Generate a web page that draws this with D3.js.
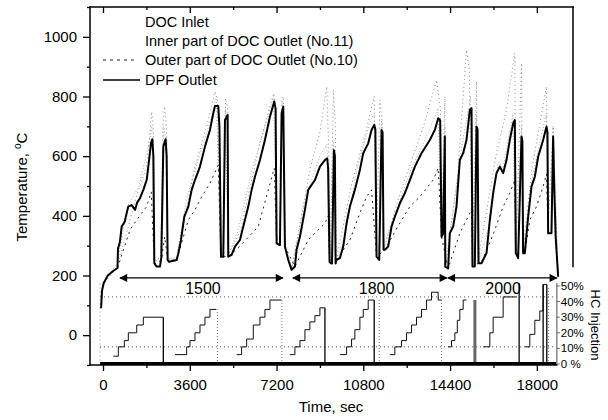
<!DOCTYPE html>
<html>
<head>
<meta charset="utf-8">
<script src="https://cdn.jsdelivr.net/npm/d3@7"></script>
<style>
  body { margin: 0; background: #fff; }
  svg { font-family: "Liberation Sans", Arial, sans-serif; }
  .axis text { font-size: 15px; fill: #000; }
  .axis line { stroke: #000; stroke-width: 1.3; }
  .axis path { display: none; }
</style>
</head>
<body>
<script>
//chart data (time in s, temperature in degC, HC in %)
var xTicks = [0, 3600, 7200, 10800, 14400, 18000];
var xMinor = [1800, 5400, 9000, 12600, 16200];
var yTicks = [0, 200, 400, 600, 800, 1000];
var yMinor = [-100, 100, 300, 500, 700, 900, 1100];
var hcTicks = [0, 10, 20, 30, 40, 50];
var hcLabels = ["0 %", "10%", "20%", "30%", "40%", "50%"];
var legendNames = ["DOC Inlet", "Inner part of DOC Outlet (No.11)", "Outer part of DOC Outlet (No.10)", "DPF Outlet"];

var dpfOutlet = [[-80,90],[-40,150],[30,175],[200,200],[420,215],[600,225],[622,290],[700,312],[774,364],[900,380],
  [982,409],[1050,431],[1189,436],[1327,420],[1420,445],[1534,459],[1673,487],[1811,520],[1880,565],[1990,643],
  [2046,657],[2090,600],[2129,241],[2225,230],[2364,230],[2420,260],[2502,632],[2598,657],[2640,600],[2681,252],
  [2737,246],[3056,252],[3125,274],[3235,319],[3373,397],[3539,431],[3678,487],[3815,520],[4023,565],[4230,632],
  [4437,688],[4575,744],[4645,768],[4783,768],[4830,700],[4894,263],[4990,263],[5060,721],[5170,738],[5197,263],
  [5336,269],[5474,297],[5681,319],[5820,364],[6027,431],[6166,487],[6304,531],[6511,587],[6718,654],[6926,732],
  [7105,783],[7160,760],[7203,308],[7341,302],[7410,744],[7479,766],[7548,297],[7686,252],[7824,219],[7962,230],
  [8031,286],[8170,330],[8377,420],[8515,487],[8792,520],[8999,565],[9207,587],[9302,593],[9340,560],[9400,245],
  [9500,240],[9580,620],[9620,600],[9650,240],[9690,252],[9828,258],[9966,297],[10105,375],[10243,431],[10450,487],
  [10658,554],[10796,610],[11003,643],[11142,688],[11252,705],[11300,690],[11349,263],[11460,252],[11557,688],[11600,680],
  [11640,286],[11694,286],[11832,297],[11971,364],[12109,397],[12317,442],[12524,476],[12731,520],[12939,565],[13215,610],
  [13561,654],[13768,688],[13906,727],[13990,720],[14045,330],[14110,340],[14183,666],[14200,230],[14320,224],[14390,342],
  [14528,364],[14666,431],[14805,587],[14943,610],[15081,654],[15220,755],[15290,761],[15330,230],[15427,230],[15496,699],
  [15540,690],[15580,241],[15704,241],[15911,275],[16049,386],[16187,476],[16325,543],[16464,565],[16602,543],[16740,587],
  [16878,654],[17017,710],[17086,721],[17127,275],[17224,258],[17363,666],[17400,650],[17430,275],[17501,275],[17639,397],
  [17778,498],[17916,531],[18054,598],[18261,654],[18400,699],[18440,680],[18469,342],[18607,342],[18676,666],[18720,500],
  [18780,330],[18884,196]];

var outerDoc = [[600,225],[1120,353],[1397,386],[1604,409],[1811,431],[2000,480],[2129,238],[2420,250],[2560,330],[2681,250],
  [3056,252],[3539,386],[3815,420],[4092,464],[4437,509],[4783,570],[4894,263],[5197,263],[5700,300],[6442,364],
  [6857,487],[7105,560],[7203,305],[7548,297],[7962,230],[8515,319],[8792,342],[9207,375],[9340,400],[9400,245],
  [9690,252],[10243,319],[10658,409],[10935,464],[11142,487],[11349,263],[11694,286],[12200,360],[12731,431],[13146,464],
  [13699,520],[13906,560],[14045,330],[14320,224],[14805,342],[14943,364],[15290,420],[15330,232],[15704,245],[16200,340],
  [16602,431],[16878,476],[17086,520],[17127,275],[17501,275],[17708,386],[17985,431],[18261,498],[18400,540],[18469,342]];

var innerDoc = [[0,175],[600,240],[1000,430],[1500,500],[1900,640],[2030,700],[2110,250],[2380,250],[2520,700],[2620,650],
  [2670,255],[3050,260],[3500,470],[4000,600],[4500,730],[4700,800],[4880,265],[4990,265],[5080,760],[5190,265],
  [5600,350],[6200,560],[6800,720],[7080,800],[7200,310],[7340,305],[7440,780],[7540,300],[7830,225],[8400,460],
  [9000,600],[9290,640],[9400,245],[9560,650],[9650,245],[10000,320],[10600,580],[11100,720],[11250,740],[11345,265],
  [11460,255],[11550,720],[11640,290],[12000,380],[12800,560],[13500,680],[13900,760],[14040,330],[14180,700],[14200,230],
  [14400,350],[14900,640],[15250,800],[15330,235],[15490,740],[15580,245],[16000,360],[16400,580],[16600,560],[17000,740],
  [17120,280],[17360,700],[17430,280],[17800,520],[18100,640],[18390,740],[18470,345],[18600,345],[18670,700],[18880,200]];

var docInlet = [[-120,-85],[-120,175],[0,170],[600,230],[1400,470],[1800,560],[1950,680],[2020,749],[2090,690],[2140,250],
  [2400,260],[2480,700],[2560,766],[2640,690],[2690,255],[3050,255],[3800,560],[4300,700],[4650,816],[4750,790],
  [4880,270],[5000,270],[5080,794],[5170,760],[5210,270],[5700,350],[6500,640],[6900,760],[7080,811],[7180,750],
  [7210,310],[7340,310],[7420,790],[7480,800],[7560,300],[7830,225],[8600,560],[9000,680],[9280,833],[9360,640],
  [9420,250],[9560,822],[9640,700],[9680,255],[10300,500],[10900,680],[11250,800],[11340,270],[11488,788],[11600,700],
  [11650,290],[12300,470],[13300,700],[13837,855],[14000,760],[14050,340],[14183,800],[14230,235],[14700,520],[15081,956],
  [15200,890],[15320,240],[15496,850],[15560,250],[16300,600],[16740,755],[17086,946],[17130,280],[17363,911],[17420,280],
  [17800,560],[18123,710],[18400,833],[18460,350],[18676,700],[18880,200]];

var hcSteps = [
  [[428,5],[636,11],[884,15],[1050,20],[1400,25],[1673,30],[2502,30]],
  [[2986,6],[3470,11],[3608,15],[3815,20],[4023,25],[4230,30],[4437,35],[4700,35]],
  [[5544,6],[5750,11],[5958,16],[6235,25],[6511,30],[6718,35],[6926,41],[7410,41]],
  [[7755,6],[7962,11],[8170,15],[8377,22],[8584,27],[8792,31],[8999,36],[9207,36]],
  [[9828,6],[10105,11],[10312,16],[10450,22],[10658,30],[10796,35],[11003,41],[11252,41]],
  [[11901,6],[12109,11],[12386,15],[12593,20],[12800,25],[13008,30],[13215,35],[13422,41],[13630,46],[13906,41],[14045,41]],
  [[14320,11],[14459,15],[14598,20],[14700,28],[14805,35],[14943,41],[15081,41]],
  [[15773,11],[16049,20],[16187,30],[16602,43],[17155,43]],
  [[17501,11],[17708,19],[17916,28],[18123,34],[18261,51],[18413,51]]
];
var hcPulses = [[2502,30],[9207,36],[11252,41],[17265,52],[18261,51],[18413,51]];
var hcPulsesGray = [[15430,41]];
var hcMarks = [[4750,35],[7420,41],[11460,41],[14045,41],[18480,50]];
var hcRefLevels = [11, 43];

var periods = ["1500", "1800", "2000"];
var periodStart = [705, 7880, 14307];
var periodEnd = [7465, 14266, 18828];
var periodMid = [4147, 11352, 16600];

//begin script when window loads
window.onload = drawChart();

function drawChart(){
    var width = 608,
        height = 420;

    var svg = d3.select("body")
        .append("svg")
        .attr("width", width)
        .attr("height", height);

    //scales
    var x = d3.scaleLinear().domain([-540, 19500]).range([90, 573]);
    var y = d3.scaleLinear().domain([-100, 1100]).range([365, 7]);
    var hc = d3.scaleLinear().domain([0, 50]).range([364, 286]);
    var tEnd = 18828;
    var plain = d3.format("d");

    //arrow marker
    var defs = svg.append("defs");
    defs.append("marker")
        .attr("id", "arrow")
        .attr("viewBox", "0 0 10 10")
        .attr("refX", 9)
        .attr("refY", 5)
        .attr("markerWidth", 11)
        .attr("markerHeight", 8)
        .attr("markerUnits", "userSpaceOnUse")
        .attr("orient", "auto-start-reverse")
        .append("path")
        .attr("d", "M0,0L10,5L0,10Z")
        .attr("fill", "#000");

    var line = d3.line()
        .x(function(d){ return x(d[0]); })
        .y(function(d){ return y(d[1]); });

    var hcLine = d3.line()
        .x(function(d){ return x(d[0]); })
        .y(function(d){ return hc(d[1]); })
        .curve(d3.curveStepAfter);

    //HC reference dotted levels
    svg.selectAll(".hcref")
        .data(hcRefLevels)
        .enter()
        .append("line")
        .attr("x1", x(-120))
        .attr("x2", x(tEnd))
        .attr("y1", function(d){ return hc(d); })
        .attr("y2", function(d){ return hc(d); })
        .attr("stroke", "#444")
        .attr("stroke-width", 1)
        .attr("stroke-dasharray", "1,3");

    //HC staircases
    svg.selectAll(".hcstep")
        .data(hcSteps)
        .enter()
        .append("path")
        .attr("d", hcLine)
        .attr("fill", "none")
        .attr("stroke", "#111")
        .attr("stroke-width", 1);

    svg.selectAll(".hcpulse")
        .data(hcPulses)
        .enter()
        .append("line")
        .attr("x1", function(d){ return x(d[0]); })
        .attr("x2", function(d){ return x(d[0]); })
        .attr("y1", hc(0))
        .attr("y2", function(d){ return hc(d[1]); })
        .attr("stroke", "#000")
        .attr("stroke-width", 1.3);

    svg.selectAll(".hcpulsegray")
        .data(hcPulsesGray)
        .enter()
        .append("line")
        .attr("x1", function(d){ return x(d[0]); })
        .attr("x2", function(d){ return x(d[0]); })
        .attr("y1", hc(0))
        .attr("y2", function(d){ return hc(d[1]); })
        .attr("stroke", "#666")
        .attr("stroke-width", 3);

    svg.selectAll(".hcmark")
        .data(hcMarks)
        .enter()
        .append("line")
        .attr("x1", function(d){ return x(d[0]); })
        .attr("x2", function(d){ return x(d[0]); })
        .attr("y1", hc(0))
        .attr("y2", function(d){ return hc(d[1]); })
        .attr("stroke", "#777")
        .attr("stroke-width", 1)
        .attr("stroke-dasharray", "1,2");

    //HC zero line (thick)
    svg.append("line")
        .attr("x1", x(-120))
        .attr("x2", x(tEnd))
        .attr("y1", hc(0) - 0.5)
        .attr("y2", hc(0) - 0.5)
        .attr("stroke", "#000")
        .attr("stroke-width", 3);

    //temperature series
    svg.append("path")
        .datum(docInlet)
        .attr("d", line)
        .attr("fill", "none")
        .attr("stroke", "#888")
        .attr("stroke-width", 1)
        .attr("stroke-dasharray", "1,3");

    svg.append("path")
        .datum(innerDoc)
        .attr("d", line)
        .attr("fill", "none")
        .attr("stroke", "#aaa")
        .attr("stroke-width", 1)
        .attr("stroke-dasharray", "1,2");

    svg.append("path")
        .datum(outerDoc)
        .attr("d", line)
        .attr("fill", "none")
        .attr("stroke", "#222")
        .attr("stroke-width", 1)
        .attr("stroke-dasharray", "2,4");

    svg.append("path")
        .datum(dpfOutlet)
        .attr("d", line)
        .attr("fill", "none")
        .attr("stroke", "#000")
        .attr("stroke-width", 2)
        .attr("stroke-linejoin", "round");

    //period arrows
    var arrowY = y(192);
    svg.selectAll(".period")
        .data(periods)
        .enter()
        .append("line")
        .attr("x1", function(d, i){ return x(periodStart[i]); })
        .attr("x2", function(d, i){ return x(periodEnd[i]); })
        .attr("y1", arrowY)
        .attr("y2", arrowY)
        .attr("stroke", "#000")
        .attr("stroke-width", 1.4)
        .attr("marker-start", "url(#arrow)")
        .attr("marker-end", "url(#arrow)");

    svg.selectAll(".periodLabel")
        .data(periods)
        .enter()
        .append("text")
        .attr("x", function(d, i){ return x(periodMid[i]); })
        .attr("y", y(138))
        .attr("text-anchor", "middle")
        .style("font-size", "16px")
        .text(function(d){ return d; });

    //axes
    var bottom = svg.append("g")
        .attr("class", "axis")
        .attr("transform", "translate(0," + y(-100) + ")")
        .call(d3.axisBottom(x).tickValues(xTicks).tickSize(6).tickPadding(5).tickFormat(plain));
    bottom.selectAll("text").attr("dy", "0.95em");

    svg.append("g")
        .attr("class", "axis")
        .attr("transform", "translate(0," + y(-100) + ")")
        .call(d3.axisBottom(x).tickValues(xMinor).tickSize(3).tickFormat(""));

    svg.append("g")
        .attr("class", "axis")
        .attr("transform", "translate(0," + y(1100) + ")")
        .call(d3.axisBottom(x).tickValues(xTicks).tickSize(6).tickFormat(""));

    svg.append("g")
        .attr("class", "axis")
        .attr("transform", "translate(0," + y(1100) + ")")
        .call(d3.axisBottom(x).tickValues(xMinor).tickSize(3).tickFormat(""));

    svg.append("g")
        .attr("class", "axis")
        .attr("transform", "translate(" + x(-540) + ",0)")
        .call(d3.axisLeft(y).tickValues(yTicks).tickSize(7).tickPadding(6).tickFormat(plain));

    svg.append("g")
        .attr("class", "axis")
        .attr("transform", "translate(" + x(-540) + ",0)")
        .call(d3.axisLeft(y).tickValues(yMinor).tickSize(3).tickFormat(""));

    //frame lines
    var frame = [
        [x(-540), y(1100), x(19500), y(1100)],
        [x(-540), y(1100), x(-540), y(-100)],
        [x(-540), y(-100), x(tEnd), y(-100)],
        [x(19500), y(1100), x(19500), y(230)]
    ];
    svg.selectAll(".frame")
        .data(frame)
        .enter()
        .append("line")
        .attr("x1", function(d){ return d[0]; })
        .attr("y1", function(d){ return d[1]; })
        .attr("x2", function(d){ return d[2]; })
        .attr("y2", function(d){ return d[3]; })
        .attr("stroke", "#000")
        .attr("stroke-width", 1.5)
        .attr("stroke-linecap", "square");

    //HC axis on the right
    svg.append("line")
        .attr("x1", x(tEnd))
        .attr("x2", x(tEnd))
        .attr("y1", hc(0))
        .attr("y2", hc(52))
        .attr("stroke", "#888")
        .attr("stroke-width", 1.5);

    svg.selectAll(".hctick")
        .data(hcTicks)
        .enter()
        .append("line")
        .attr("x1", x(tEnd))
        .attr("x2", x(tEnd) + 3)
        .attr("y1", function(d){ return hc(d); })
        .attr("y2", function(d){ return hc(d); })
        .attr("stroke", "#666");

    svg.selectAll(".hclabel")
        .data(hcTicks)
        .enter()
        .append("text")
        .attr("x", x(tEnd) + 4)
        .attr("y", function(d){ return hc(d); })
        .attr("dy", "0.35em")
        .style("font-size", "11.5px")
        .text(function(d, i){ return hcLabels[i]; });

    svg.append("text")
        .attr("transform", "translate(596," + hc(25) + ") rotate(90)")
        .attr("text-anchor", "middle")
        .attr("dy", "0.35em")
        .style("font-size", "13px")
        .text("HC Injection");

    //axis titles
    var yTitle = svg.append("text")
        .attr("transform", "translate(27,187) rotate(-90)")
        .attr("text-anchor", "middle")
        .style("font-size", "15px");
    yTitle.append("tspan").text("Temperature, ");
    yTitle.append("tspan").attr("dy", "-6").style("font-size", "10px").text("o");
    yTitle.append("tspan").attr("dy", "6").text("C");

    svg.append("text")
        .attr("x", 331)
        .attr("y", 412)
        .attr("text-anchor", "middle")
        .style("font-size", "15px")
        .text("Time, sec");

    //legend
    var legendY = [27, 46, 65, 85];
    svg.selectAll(".legendText")
        .data(legendNames)
        .enter()
        .append("text")
        .attr("x", 145)
        .attr("y", function(d, i){ return legendY[i]; })
        .style("font-size", "14.5px")
        .text(function(d){ return d; });

    svg.append("line")
        .attr("x1", 103).attr("x2", 135)
        .attr("y1", 60).attr("y2", 60)
        .attr("stroke", "#222")
        .attr("stroke-width", 1)
        .attr("stroke-dasharray", "3,4");

    svg.append("line")
        .attr("x1", 103).attr("x2", 140)
        .attr("y1", 80).attr("y2", 80)
        .attr("stroke", "#000")
        .attr("stroke-width", 1.6);
};
</script>
</body>
</html>
